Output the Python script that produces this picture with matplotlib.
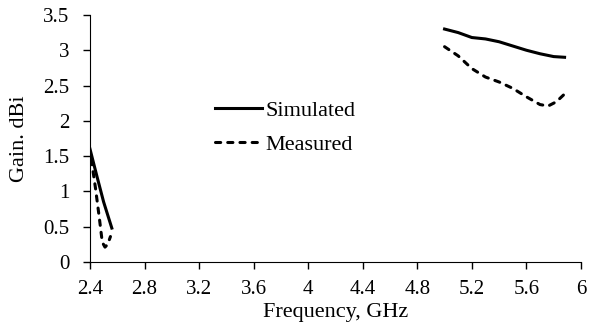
import matplotlib
matplotlib.use("Agg")
import matplotlib.pyplot as plt
import numpy as np

# simulated gain, two bands
sim_f_low = [2.40, 2.45, 2.50, 2.56]
sim_g_low = [1.60, 1.22, 0.85, 0.48]
sim_f_high = [5.00, 5.10, 5.20, 5.30, 5.40, 5.50, 5.60, 5.70, 5.80, 5.88]
sim_g_high = [3.30, 3.25, 3.18, 3.16, 3.12, 3.06, 3.00, 2.95, 2.91, 2.90]

# measured gain, two bands
meas_f_low = [2.41, 2.44, 2.47, 2.49, 2.51, 2.53, 2.55]
meas_g_low = [1.45, 1.05, 0.60, 0.28, 0.21, 0.25, 0.36]
meas_f_high = [5.00, 5.10, 5.20, 5.30, 5.40, 5.50, 5.60, 5.70, 5.76, 5.82, 5.88]
meas_g_high = [3.05, 2.92, 2.74, 2.62, 2.55, 2.46, 2.34, 2.23, 2.21, 2.27, 2.38]

plt.rcParams['font.family'] = 'Liberation Serif'
plt.rcParams['font.size'] = 16

fig = plt.figure(figsize=(5.94, 3.32), dpi=100)
ax = fig.add_axes([0.1515, 0.211, 0.8265, 0.744])

dash = (0, (1.7, 2.3))
ax.plot(sim_f_low, sim_g_low, color='k', lw=2.2, label='Simulated')
ax.plot(sim_f_high, sim_g_high, color='k', lw=2.2)
ax.plot(meas_f_low, meas_g_low, color='k', lw=2.2, ls=dash, dash_capstyle='round',
        label='Measured')
ax.plot(meas_f_high, meas_g_high, color='k', lw=2.2, ls=dash, dash_capstyle='round')

ax.set_xlim(2.4, 6.0)
ax.set_ylim(0, 3.5)
ax.set_xticks(np.arange(2.4, 6.01, 0.4))
ax.set_xticklabels(['2.4', '2.8', '3.2', '3.6', '4', '4.4', '4.8', '5.2', '5.6', '6'])
ax.set_yticks(np.arange(0, 3.51, 0.5))
ax.set_yticklabels(['0', '0.5', '1', '1.5', '2', '2.5', '3', '3.5'])
ax.spines['top'].set_visible(False)
ax.spines['right'].set_visible(False)
ax.tick_params(direction='out', length=5, width=1, colors='k', labelsize=15)
ax.tick_params(axis='x', pad=8)
ax.tick_params(axis='y', pad=10)
ax.set_xlabel('Frequency, GHz', labelpad=3)
ax.set_ylabel('Gain. dBi', labelpad=10)

ax.legend(loc='center left', bbox_to_anchor=(0.255, 0.543), frameon=False,
          handlelength=2.1, handletextpad=0.15, labelspacing=0.6,
          borderaxespad=0, borderpad=0)

fig.savefig('out.png', dpi=100)
